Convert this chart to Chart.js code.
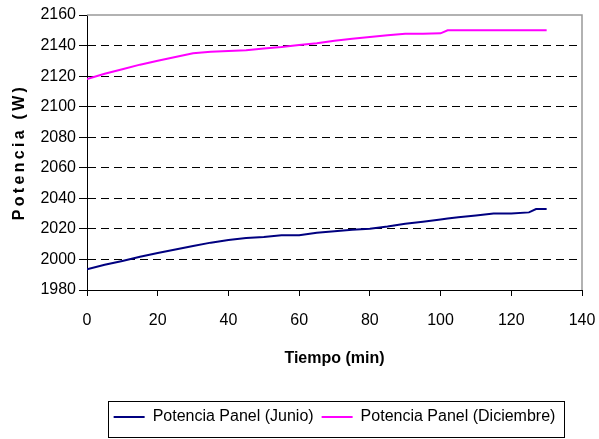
<!DOCTYPE html>
<html lang="es">
<head>
<meta charset="utf-8">
<title>Potencia Panel</title>
<script src="https://cdn.jsdelivr.net/npm/chart.js@4/dist/chart.umd.min.js"></script>
<style>
    html, body { margin: 0; padding: 0; background: #fff; }
    #wrap { position: relative; width: 599px; height: 439px; }
</style>
</head>
<body>
<div id="wrap"><canvas id="potenciaChart"></canvas></div>
<script>
// datos
const tiempo = [0, 5, 10, 15, 20, 25, 30, 35, 40, 45, 50, 55, 60, 65, 70, 75, 80, 85, 90, 95, 100, 102, 105, 110, 115, 120, 125, 127, 130];
const potenciaJunio = [1993.5, 1996.5, 1999, 2001.7, 2004.2, 2006.5, 2008.8, 2011, 2012.8, 2014, 2014.7, 2015.8, 2015.8, 2017.5, 2018.5, 2019.5, 2020.1, 2021.5, 2023.4, 2024.7, 2026.2, 2026.8, 2027.6, 2028.8, 2030, 2030, 2030.8, 2033, 2033];
const potenciaDiciembre = [2118, 2121.5, 2124.5, 2127.5, 2130, 2132.5, 2135, 2136, 2136.5, 2137, 2138, 2139, 2140.3, 2141.5, 2143.2, 2144.5, 2145.6, 2146.7, 2147.8, 2147.8, 2148, 2150, 2150, 2150, 2150, 2150, 2150, 2150, 2150];
const etiquetas = ['Potencia Panel (Junio)', 'Potencia Panel (Diciembre)'];
const ejeX = { min: 0, max: 140, paso: 20 };
const ejeY = { min: 1980, max: 2160, paso: 20 };

const toPoints = (vals) => tiempo.map((t, i) => ({ x: t, y: vals[i] }));

document.addEventListener('DOMContentLoaded', () => {
    Chart.defaults.color = '#000';
    Chart.defaults.font.family = "'Liberation Sans', Arial, sans-serif";
    Chart.defaults.font.size = 16;

    // borde gris del área, título Y espaciado y caja de la leyenda
    const marco = {
        id: 'marco',
        beforeDatasetsDraw(chart) {
            const { ctx, chartArea: a } = chart;
            ctx.save();
            ctx.strokeStyle = '#999';
            ctx.lineWidth = 1.5;
            ctx.beginPath();
            ctx.moveTo(a.left, a.top);
            ctx.lineTo(a.right, a.top);
            ctx.lineTo(a.right, a.bottom);
            ctx.stroke();
            ctx.restore();
        },
        afterDraw(chart) {
            const { ctx, chartArea: a, legend } = chart;
            ctx.save();
            ctx.translate(20, (a.top + a.bottom) / 2);
            ctx.rotate(-Math.PI / 2);
            ctx.font = "bold 16px 'Liberation Sans', Arial, sans-serif";
            ctx.letterSpacing = '3.3px';
            ctx.textAlign = 'center';
            ctx.textBaseline = 'middle';
            ctx.fillStyle = '#000';
            ctx.fillText('Potencia (W)', 0.5, 0);
            ctx.restore();

            const hb = legend.legendHitBoxes;
            if (hb && hb.length) {
                const last = hb[hb.length - 1];
                const l = hb[0].left - 6;
                const r = last.left + last.width + 8;
                ctx.save();
                ctx.strokeStyle = '#000';
                ctx.lineWidth = 1;
                ctx.strokeRect(Math.round(l) + 0.5, Math.round(legend.top) + 0.5, Math.round(r - l), 437 - Math.round(legend.top));
                ctx.restore();
            }
        }
    };

    const ctx = document.getElementById('potenciaChart');
    new Chart(ctx, {
        type: 'line',
        data: {
            datasets: [{
                label: etiquetas[0],
                data: toPoints(potenciaJunio),
                borderColor: '#000080',
                backgroundColor: '#000080',
                borderWidth: 2,
                pointRadius: 0,
                tension: 0
            }, {
                label: etiquetas[1],
                data: toPoints(potenciaDiciembre),
                borderColor: '#ff00ff',
                backgroundColor: '#ff00ff',
                borderWidth: 2,
                pointRadius: 0,
                tension: 0
            }]
        },
        options: {
            responsive: true,
            maintainAspectRatio: false,
            animation: false,
            layout: { padding: { top: 15, right: 17, bottom: 4, left: 40 } },
            plugins: {
                tooltip: { enabled: false },
                legend: {
                    position: 'bottom',
                    fullSize: false,
                    labels: {
                        boxWidth: 31,
                        boxHeight: 2,
                        padding: 8,
                        font: { size: 16 },
                        generateLabels(chart) {
                            return Chart.defaults.plugins.legend.labels.generateLabels(chart)
                                .map(item => ({ ...item, fillStyle: item.strokeStyle, lineWidth: 0 }));
                        }
                    }
                }
            },
            scales: {
                x: {
                    type: 'linear',
                    min: ejeX.min,
                    max: ejeX.max,
                    afterFit(scale) {
                        scale.height = 111;
                        scale.paddingLeft = 0;
                        scale.paddingRight = 0;
                    },
                    ticks: { stepSize: ejeX.paso, padding: 15, font: { size: 16 } },
                    grid: { drawOnChartArea: false, drawTicks: true, tickLength: 6, tickColor: '#000', tickBorderDash: [] },
                    border: { color: '#000', width: 1 },
                    title: {
                        display: true,
                        text: 'Tiempo (min)',
                        font: { size: 16, weight: 'bold' },
                        padding: { top: 0, bottom: 33 }
                    }
                },
                y: {
                    min: ejeY.min,
                    max: ejeY.max,
                    afterFit(scale) { scale.width = 47; },
                    ticks: { stepSize: ejeY.paso, padding: 3, font: { size: 16 }, callback: (v) => String(v) },
                    grid: {
                        color: (c) => (c.tick && (c.tick.value === ejeY.max || c.tick.value === ejeY.min)) ? 'rgba(0,0,0,0)' : '#000',
                        lineWidth: 1,
                        tickLength: 8,
                        tickColor: '#000',
                        tickBorderDash: []
                    },
                    border: { color: '#000', width: 1, dash: [8, 5] }
                }
            }
        },
        plugins: [marco]
    });
});
</script>
</body>
</html>
